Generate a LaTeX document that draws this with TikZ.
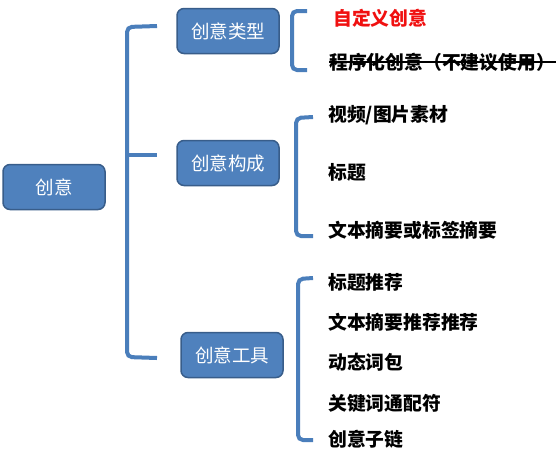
\documentclass[tikz,border=0pt]{standalone}
\usepackage{fontspec}
\setmainfont{Noto Sans CJK SC}
\definecolor{boxblue}{HTML}{4F81BD}
\definecolor{boxedge}{HTML}{385D8A}
\definecolor{brkblue}{HTML}{4A7EBB}
\definecolor{redtxt}{HTML}{F01010}
\begin{document}
\begin{tikzpicture}[x=1pt,y=-1pt]
\tikzset{
  box/.style={rectangle, rounded corners=7pt, fill=boxblue, draw=boxedge, line width=1.5pt,
    text=white, font=\fontsize{18.5}{20}\selectfont, minimum width=102pt, minimum height=45pt, inner sep=0pt},
  item/.style={anchor=west, font=\bfseries\fontsize{18.8}{20}\selectfont, inner sep=0pt},
  brk/.style={draw=brkblue, line width=4pt, rounded corners=5pt}
}
\useasboundingbox[fill=white] (0,0) rectangle (556,450);

% boxes
\node[box] (root) at (54,187) {创意};
\node[box] (types) at (228,31) {创意类型};
\node[box] (comp) at (228,163) {创意构成};
\node[box] (tools) at (232,355) {创意工具};

% main bracket
\coordinate (m1) at (157,26);
\coordinate (m2) at (157,155);
\coordinate (m3) at (157,358);
\draw[brk] (m1) -- (127,27) -- (127,357) -- (m3);
\draw[brk] (127,155) -- (m2);

% bracket for types
\draw[brk] (307,11) -- (292,11) -- (292,70) -- (307,70);
% bracket for composition
\draw[brk] (313,117) -- (296,118) -- (296,236) -- (313,236);
% bracket for tools
\draw[brk] (313,278) -- (298,279) -- (298,440) -- (313,440);

% items
\node[item, text=redtxt] (i1) at (333,18) {自定义创意};
\node[item] (i2) at (329,62) {程序化创意（不建议使用）};
\coordinate (se) at (556,62);
\draw[line width=1.2pt] (i2.west) -- (se);

\node[item] (c1) at (328,115) {视频/图片素材};
\node[item] (c2) at (328,172) {标题};
\node[item] (c3) at (328,230) {文本摘要或标签摘要};

\node[item] (g1) at (328,282) {标题推荐};
\node[item] (g2) at (328,322) {文本摘要推荐推荐};
\node[item] (g3) at (328,362) {动态词包};
\node[item] (g4) at (328,403) {关键词通配符};
\node[item] (g5) at (328,439) {创意子链};
\end{tikzpicture}
\end{document}
